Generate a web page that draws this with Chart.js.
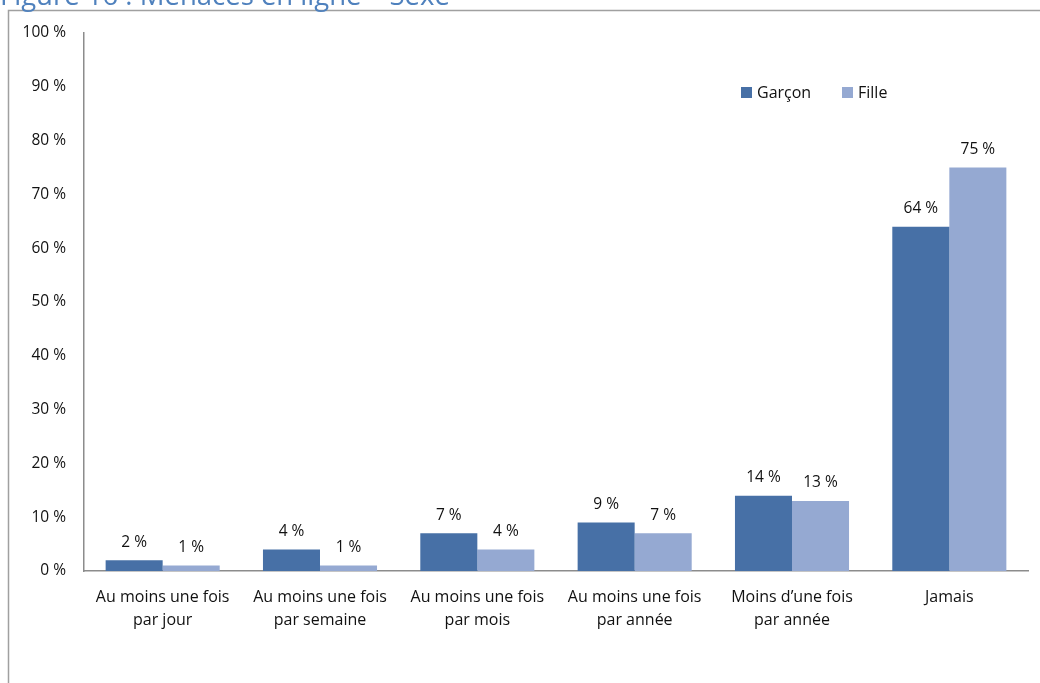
<!DOCTYPE html>
<html lang="fr">
<head>
<meta charset="utf-8">
<title>Menaces en ligne – Sexe</title>
<script src="https://cdn.jsdelivr.net/npm/chart.js@4.4.1/dist/chart.umd.min.js"></script>
<style>
  html, body { margin: 0; padding: 0; background: #fff; }
  canvas { display: block; }
</style>
</head>
<body>
<canvas id="myChart" width="1040" height="683"></canvas>
<script>
// categories (two-line labels)
const categories = [
    ['Au moins une fois', 'par jour'],
    ['Au moins une fois', 'par semaine'],
    ['Au moins une fois', 'par mois'],
    ['Au moins une fois', 'par année'],
    ['Moins d\u2019une fois', 'par année'],
    ['Jamais']
];
const seriesNames = ['Garçon', 'Fille'];
const garcon = [2, 4, 7, 9, 14, 64];
const fille  = [1, 1, 4, 7, 13, 75];
const yTicks = [0, 10, 20, 30, 40, 50, 60, 70, 80, 90, 100];
const titleText = 'Figure 16 : Menaces en ligne \u2013 Sexe';

const FONT = '"Open Sans", "DejaVu Sans", sans-serif';
const TEXT = '#111';
const colors = ['#4770A6', '#95A9D2'];

// frame + clipped title at the top of the figure
const framePlugin = {
    id: 'frame',
    beforeDraw(chart) {
        const ctx = chart.ctx;
        ctx.save();
        ctx.fillStyle = '#fff';
        ctx.fillRect(0, 0, chart.width, chart.height);
        ctx.strokeStyle = '#a0a0a0';
        ctx.lineWidth = 1.5;
        ctx.beginPath();
        ctx.moveTo(8.5, chart.height);
        ctx.lineTo(8.5, 10.5);
        ctx.lineTo(chart.width, 10.5);
        ctx.stroke();
        ctx.fillStyle = '#4F81BD';
        ctx.font = '27.5px ' + FONT;
        ctx.textBaseline = 'alphabetic';
        ctx.fillText(titleText, 0, 5);
        ctx.restore();
    }
};

// value labels above the bars
const valueLabels = {
    id: 'valueLabels',
    afterDatasetsDraw(chart) {
        const ctx = chart.ctx;
        ctx.save();
        ctx.font = '15.5px ' + FONT;
        ctx.fillStyle = TEXT;
        ctx.textAlign = 'center';
        ctx.textBaseline = 'middle';
        chart.data.datasets.forEach((ds, i) => {
            chart.getDatasetMeta(i).data.forEach((bar, j) => {
                ctx.fillText(ds.data[j] + ' %', bar.x, bar.y - 18);
            });
        });
        ctx.restore();
    }
};

// legend inside the plot area
const innerLegend = {
    id: 'innerLegend',
    afterDraw(chart) {
        const ctx = chart.ctx;
        const xs = [741, 842];
        const y = 87;
        ctx.save();
        ctx.font = '16px ' + FONT;
        ctx.textBaseline = 'middle';
        chart.data.datasets.forEach((ds, i) => {
            ctx.fillStyle = ds.backgroundColor;
            ctx.fillRect(xs[i], y, 11, 11);
            ctx.fillStyle = TEXT;
            ctx.fillText(ds.label, xs[i] + 16, y + 6);
        });
        ctx.restore();
    }
};

new Chart(document.getElementById('myChart').getContext('2d'), {
    type: 'bar',
    data: {
        labels: categories,
        datasets: [
            { label: seriesNames[0], data: garcon, backgroundColor: colors[0] },
            { label: seriesNames[1], data: fille, backgroundColor: colors[1] }
        ]
    },
    options: {
        responsive: false,
        animation: false,
        categoryPercentage: 0.725,
        barPercentage: 1,
        layout: { padding: { top: 33, right: 12, left: 0, bottom: 0 } },
        plugins: {
            legend: { display: false },
            tooltip: { enabled: false }
        },
        scales: {
            x: {
                grid: { display: false, drawTicks: false },
                border: { display: true, color: '#8c8c8c', width: 1.5 },
                ticks: {
                    color: TEXT,
                    font: { family: FONT, size: 16, lineHeight: 1.45 },
                    padding: 15,
                    maxRotation: 0,
                    autoSkip: false
                },
                afterFit(scale) { scale.height = 112; }
            },
            y: {
                min: 0,
                max: 100,
                afterBuildTicks(scale) { scale.ticks = yTicks.map(v => ({ value: v })); },
                grid: { display: false, drawTicks: false },
                border: { display: true, color: '#8c8c8c', width: 1.5 },
                ticks: {
                    color: TEXT,
                    font: { family: FONT, size: 15.5 },
                    padding: 18,
                    callback: v => v + ' %'
                },
                afterFit(scale) { scale.width = 84; }
            }
        }
    },
    plugins: [framePlugin, valueLabels, innerLegend]
});
</script>
</body>
</html>
